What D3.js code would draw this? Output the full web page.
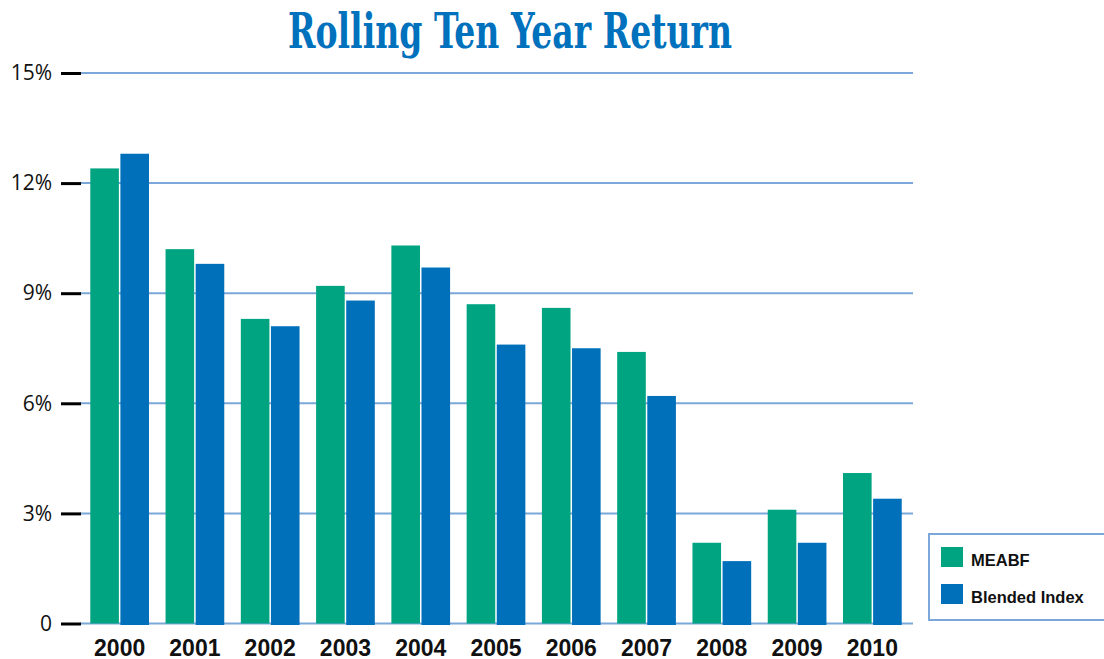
<!DOCTYPE html>
<html>
<head>
<meta charset="utf-8">
<script src="https://cdn.jsdelivr.net/npm/d3@7"></script>
<style>
  body { margin: 0; background: #fff; }
  svg { display: block; }
</style>
</head>
<body>
<div id="chart"></div>
<script>
var years = ["2000", "2001", "2002", "2003", "2004", "2005", "2006", "2007", "2008", "2009", "2010"];
var meabf = [12.4, 10.2, 8.3, 9.2, 10.3, 8.7, 8.6, 7.4, 2.2, 3.1, 4.1];
var blended = [12.8, 9.8, 8.1, 8.8, 9.7, 7.6, 7.5, 6.2, 1.7, 2.2, 3.4];
var seriesNames = ["MEABF", "Blended Index"];
var yTicks = [0, 3, 6, 9, 12, 15];

var width = 1104, height = 659;
var colors = ["#00a481", "#0070bb"];
var gridColor = "#7ba7d9";

var svg = d3.select("#chart").append("svg")
  .attr("width", width)
  .attr("height", height);

var x = d3.scaleBand().domain(years).range([82, 910]).paddingInner(0.22).paddingOuter(0.11);
var xSub = d3.scaleBand().domain(seriesNames).range([0, x.bandwidth()]).paddingInner(0.05);
var y = d3.scaleLinear().domain([0, 15]).range([623.5, 73]);

// title
svg.append("text")
  .attr("x", 510).attr("y", 48)
  .attr("text-anchor", "middle")
  .attr("textLength", 444)
  .attr("lengthAdjust", "spacingAndGlyphs")
  .style("font-family", "'DejaVu Serif Condensed', 'DejaVu Serif', serif")
  .style("font-weight", "bold")
  .style("font-size", "48px")
  .style("fill", "#0071bc")
  .text("Rolling Ten Year Return");

// gridlines
svg.append("g").selectAll("line")
  .data(yTicks)
  .enter().append("line")
  .attr("x1", 80).attr("x2", 913)
  .attr("y1", function(d) { return y(d); })
  .attr("y2", function(d) { return y(d); })
  .attr("stroke", gridColor)
  .attr("stroke-width", 2);

// y axis ticks
var yAxis = d3.axisLeft(y).tickValues(yTicks)
  .tickSize(20).tickPadding(9)
  .tickFormat(function(d) { return d === 0 ? "0" : d + "%"; });
var yg = svg.append("g").attr("transform", "translate(81,0)").call(yAxis);
yg.select(".domain").remove();
yg.selectAll(".tick line").attr("stroke", "#000").attr("stroke-width", 3);
yg.selectAll(".tick text")
  .style("font-family", "'Open Sans', 'Noto Sans', sans-serif")
  .style("font-size", "21px")
  .style("fill", "#111");

// bars
var groups = svg.append("g").selectAll("g")
  .data(years)
  .enter().append("g")
  .attr("transform", function(d) { return "translate(" + x(d) + ",0)"; });

groups.selectAll("rect")
  .data(function(d, i) { return [meabf[i], blended[i]]; })
  .enter().append("rect")
  .attr("x", function(d, j) { return xSub(seriesNames[j]); })
  .attr("width", xSub.bandwidth())
  .attr("y", function(d) { return y(d); })
  .attr("height", function(d, j) { return y(0) - y(d) + (j === 1 ? 1.5 : 0); })
  .attr("fill", function(d, j) { return colors[j]; });

// x labels
svg.append("g").selectAll("text")
  .data(years)
  .enter().append("text")
  .attr("x", function(d) { return x(d) + x.bandwidth() / 2; })
  .attr("y", 656)
  .attr("text-anchor", "middle")
  .style("font-family", "'Liberation Sans', Arial, sans-serif")
  .style("font-weight", "bold")
  .style("font-size", "23px")
  .style("fill", "#111")
  .text(function(d) { return d; });

// legend
var legend = svg.append("g").attr("transform", "translate(929,534)");
legend.append("rect")
  .attr("width", 180).attr("height", 86)
  .attr("fill", "#fff")
  .attr("stroke", gridColor).attr("stroke-width", 2);
var items = legend.selectAll(".item")
  .data(seriesNames)
  .enter().append("g")
  .attr("class", "item")
  .attr("transform", function(d, i) { return "translate(12," + (13 + i * 37) + ")"; });
items.append("rect")
  .attr("width", 22).attr("height", 20)
  .attr("fill", function(d, i) { return colors[i]; });
items.append("text")
  .attr("x", 30).attr("y", 19)
  .style("font-family", "'Liberation Sans', Arial, sans-serif")
  .style("font-weight", "bold")
  .style("font-size", "16.5px")
  .style("fill", "#111")
  .text(function(d) { return d; });
</script>
</body>
</html>
